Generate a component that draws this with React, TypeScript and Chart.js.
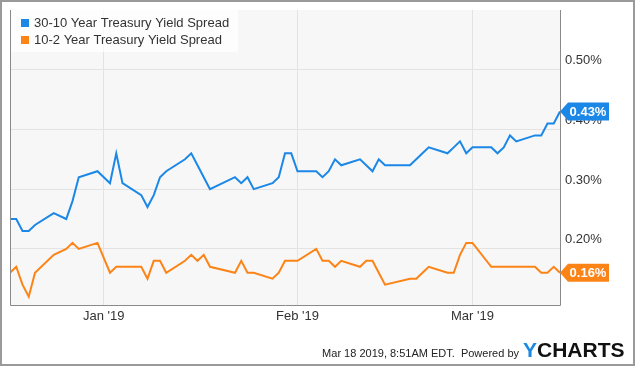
import React, { useEffect, useRef } from "react";
import { Chart, registerables } from "chart.js";

Chart.register(...registerables);

const tradeDates = [
  "2018-12-17", "2018-12-18", "2018-12-19", "2018-12-20", "2018-12-21", "2018-12-24", "2018-12-26", "2018-12-27", "2018-12-28", "2018-12-31",
  "2019-01-02", "2019-01-03", "2019-01-04", "2019-01-07", "2019-01-08", "2019-01-09", "2019-01-10", "2019-01-11", "2019-01-14", "2019-01-15",
  "2019-01-16", "2019-01-17", "2019-01-18", "2019-01-22", "2019-01-23", "2019-01-24", "2019-01-25", "2019-01-28", "2019-01-29", "2019-01-30",
  "2019-01-31", "2019-02-01", "2019-02-04", "2019-02-05", "2019-02-06", "2019-02-07", "2019-02-08", "2019-02-11", "2019-02-12", "2019-02-13",
  "2019-02-14", "2019-02-15", "2019-02-19", "2019-02-20", "2019-02-21", "2019-02-22", "2019-02-25", "2019-02-26", "2019-02-27", "2019-02-28",
  "2019-03-01", "2019-03-04", "2019-03-05", "2019-03-06", "2019-03-07", "2019-03-08", "2019-03-11", "2019-03-12", "2019-03-13", "2019-03-14",
  "2019-03-15",
];

const spread30y10y = [
  0.25, 0.25, 0.23, 0.23, 0.24, 0.26, 0.25, 0.28, 0.32, 0.33,
  0.31, 0.36, 0.31, 0.29, 0.27, 0.29, 0.32, 0.33, 0.35, 0.36,
  0.34, 0.32, 0.30, 0.32, 0.31, 0.32, 0.30, 0.31, 0.32, 0.36,
  0.36, 0.33, 0.33, 0.32, 0.33, 0.35, 0.34, 0.35, 0.34, 0.33,
  0.35, 0.34, 0.34, 0.35, 0.36, 0.37, 0.36, 0.37, 0.38, 0.36,
  0.37, 0.37, 0.36, 0.37, 0.39, 0.38, 0.39, 0.39, 0.41, 0.41,
  0.43,
];

const spread10y2y = [
  0.16, 0.17, 0.14, 0.12, 0.16, 0.19, 0.20, 0.21, 0.20, 0.21,
  0.16, 0.17, 0.17, 0.17, 0.15, 0.18, 0.18, 0.16, 0.18, 0.19,
  0.18, 0.19, 0.17, 0.16, 0.18, 0.16, 0.16, 0.15, 0.16, 0.18,
  0.18, 0.18, 0.20, 0.18, 0.18, 0.17, 0.18, 0.17, 0.18, 0.18,
  0.16, 0.14, 0.15, 0.15, 0.16, 0.17, 0.16, 0.16, 0.19, 0.21,
  0.21, 0.17, 0.17, 0.17, 0.17, 0.17, 0.17, 0.16, 0.16, 0.17,
  0.16,
];

const seriesNames = ["30-10 Year Treasury Yield Spread", "10-2 Year Treasury Yield Spread"];
const seriesColors = ["#1b87e6", "#fc8417"];
const axisStart = "2018-12-17";
const axisEnd = "2019-03-15";
const monthTicks = ["2019-01-01", "2019-02-01", "2019-03-01"];
const monthLabels = ["Jan '19", "Feb '19", "Mar '19"];
const yTicks = [0.2, 0.3, 0.4, 0.5];
const yMin = 0.106;
const yMax = 0.6;
const footerText = "Mar 18 2019, 8:51AM EDT.  Powered by";
const brandFirst = "Y";
const brandRest = "CHARTS";

const FONT = "'Liberation Sans', Arial, Helvetica, sans-serif";

const dayIndex = (s: string) =>
  (Date.parse(s + "T00:00:00Z") - Date.parse(axisStart + "T00:00:00Z")) / 86400000;

const decorPlugin = {
  id: "decor",
  beforeDraw(chart: any) {
    const { ctx, chartArea: a } = chart;
    ctx.save();
    ctx.fillStyle = "#ffffff";
    ctx.fillRect(0, 0, chart.width, chart.height);
    ctx.fillStyle = "#f7f7f7";
    ctx.fillRect(a.left, a.top, a.right - a.left, a.bottom - a.top);
    ctx.restore();
  },
  afterDraw(chart: any) {
    const { ctx, chartArea: a } = chart;
    ctx.save();
    // plot borders
    ctx.strokeStyle = "#8a8a8a";
    ctx.lineWidth = 1;
    const L = Math.round(a.left) + 0.5;
    const R = Math.round(a.right) + 0.5;
    const B = Math.round(a.bottom) + 0.5;
    ctx.beginPath();
    ctx.moveTo(L, a.top);
    ctx.lineTo(L, B);
    ctx.lineTo(R, B);
    ctx.lineTo(R, a.top);
    ctx.stroke();

    // legend
    ctx.fillStyle = "rgba(255,255,255,0.72)";
    ctx.fillRect(a.left + 1, a.top, 227, 42);
    ctx.font = `13px ${FONT}`;
    ctx.textBaseline = "middle";
    ctx.textAlign = "left";
    seriesNames.forEach((name, i) => {
      const cy = a.top + 13 + i * 17;
      ctx.fillStyle = seriesColors[i];
      ctx.fillRect(a.left + 11, cy - 4, 8, 8);
      ctx.fillStyle = "#333333";
      ctx.fillText(name, a.left + 24, cy);
    });

    // last-value badges
    const values = [spread30y10y, spread10y2y];
    values.forEach((vals, i) => {
      const meta = chart.getDatasetMeta(i);
      const pt = meta.data[meta.data.length - 1];
      if (!pt) return;
      const y = pt.y;
      const x0 = a.right;
      ctx.fillStyle = seriesColors[i];
      ctx.beginPath();
      ctx.moveTo(x0, y);
      ctx.lineTo(x0 + 8, y - 9);
      ctx.lineTo(x0 + 49, y - 9);
      ctx.lineTo(x0 + 49, y + 9);
      ctx.lineTo(x0 + 8, y + 9);
      ctx.closePath();
      ctx.fill();
      ctx.fillStyle = "#ffffff";
      ctx.font = `bold 13px ${FONT}`;
      ctx.textAlign = "center";
      ctx.textBaseline = "middle";
      ctx.fillText(vals[vals.length - 1].toFixed(2) + "%", x0 + 28, y + 1);
    });

    // footer
    ctx.textAlign = "right";
    ctx.textBaseline = "alphabetic";
    ctx.font = `11px ${FONT}`;
    ctx.fillStyle = "#222222";
    ctx.fillText(footerText, 519, 357);
    ctx.font = `bold 21px ${FONT}`;
    ctx.textAlign = "left";
    const wy = ctx.measureText(brandFirst).width;
    ctx.fillStyle = "#1b87e6";
    ctx.fillText(brandFirst, 523, 357);
    ctx.fillStyle = "#111111";
    ctx.fillText(brandRest, 523 + wy, 357);

    // outer frame
    ctx.strokeStyle = "#9a9a9a";
    ctx.lineWidth = 2;
    ctx.strokeRect(1, 1, chart.width - 2, chart.height - 2);
    ctx.restore();
  },
};

export default function App() {
  const canvasRef = useRef<HTMLCanvasElement | null>(null);

  useEffect(() => {
    if (!canvasRef.current) return;
    const xs = tradeDates.map(dayIndex);
    const chart = new Chart(canvasRef.current, {
      type: "line",
      data: {
        datasets: [
          {
            label: seriesNames[0],
            data: xs.map((x, i) => ({ x, y: spread30y10y[i] })),
            borderColor: seriesColors[0],
            borderWidth: 2,
            pointRadius: 0,
            tension: 0,
            fill: false,
          },
          {
            label: seriesNames[1],
            data: xs.map((x, i) => ({ x, y: spread10y2y[i] })),
            borderColor: seriesColors[1],
            borderWidth: 2,
            pointRadius: 0,
            tension: 0,
            fill: false,
          },
        ],
      },
      options: {
        responsive: false,
        animation: false,
        layout: { padding: { left: 10, top: 10, right: 0, bottom: 0 } },
        plugins: {
          legend: { display: false },
          tooltip: { enabled: false },
        },
        scales: {
          x: {
            type: "linear",
            min: 0,
            max: dayIndex(axisEnd),
            afterBuildTicks: (s: any) => {
              s.ticks = monthTicks.map((d) => ({ value: dayIndex(d) }));
            },
            afterFit: (s: any) => {
              s.height = 61;
              s.paddingLeft = 0;
              s.paddingRight = 0;
            },
            ticks: {
              autoSkip: false,
              maxRotation: 0,
              padding: 4,
              color: "#333333",
              font: { family: FONT, size: 13 },
              callback: (v: any) => {
                const idx = monthTicks.findIndex((d) => dayIndex(d) === v);
                return idx >= 0 ? monthLabels[idx] : "";
              },
            },
            grid: { color: "#e3e3e3", drawTicks: false },
            border: { display: false },
          },
          y: {
            position: "right",
            min: yMin,
            max: yMax,
            afterBuildTicks: (s: any) => {
              s.ticks = yTicks.map((v) => ({ value: v }));
            },
            afterFit: (s: any) => {
              s.width = 75;
              s.paddingTop = 0;
              s.paddingBottom = 0;
            },
            ticks: {
              padding: 5,
              labelOffset: -9,
              color: "#333333",
              font: { family: FONT, size: 13 },
              callback: (v: any) => Number(v).toFixed(2) + "%",
            },
            grid: { color: "#e3e3e3", drawTicks: false },
            border: { display: false },
          },
        },
      },
      plugins: [decorPlugin],
    } as any);
    return () => chart.destroy();
  }, []);

  return (
    <div style={{ position: "absolute", left: 0, top: 0, width: 635, height: 366 }}>
      <canvas ref={canvasRef} width={635} height={366} style={{ display: "block" }} />
    </div>
  );
}
